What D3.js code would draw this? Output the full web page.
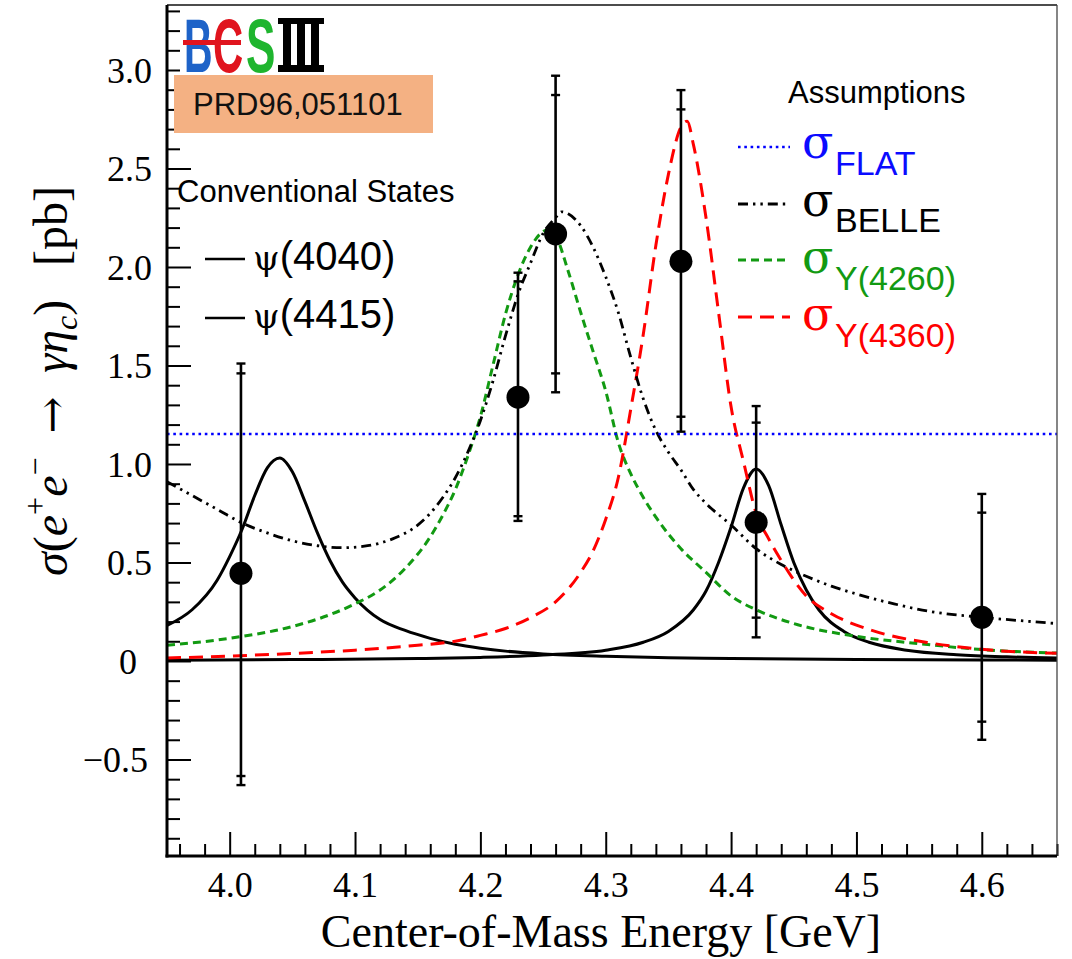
<!DOCTYPE html>
<html><head><meta charset="utf-8">
<script src="https://cdn.jsdelivr.net/npm/d3@7"></script>
<style>body{margin:0;background:#fff} svg{display:block}</style>
</head><body>
<svg id="c" width="1072" height="959"></svg>
<script>
// ---------------- data ----------------
const energies = [4.009, 4.230, 4.260, 4.360, 4.420, 4.600];
const sigmaVals = [0.445, 1.339, 2.168, 2.029, 0.704, 0.222];
const statHi = [1.46, 1.927, 2.873, 2.80, 1.21, 0.753];
const statLo = [-0.584, 0.735, 1.46, 1.24, 0.22, -0.308];
const totHi = [1.51, 1.971, 2.971, 2.898, 1.294, 0.848];
const totLo = [-0.63, 0.711, 1.364, 1.164, 0.12, -0.40];

const flatLevel = 1.152;

const psi4040E = [3.95,3.97,3.99,4.00,4.01,4.02,4.03,4.04,4.05,4.06,4.07,4.08,4.09,4.10,4.12,4.14,4.16,4.18,4.20,4.22,4.25,4.30,4.35,4.40,4.50,4.60,4.66];
const psi4040V = [0.18,0.26,0.41,0.53,0.67,0.84,0.98,1.03,0.96,0.81,0.65,0.51,0.40,0.32,0.21,0.155,0.115,0.085,0.065,0.05,0.036,0.024,0.017,0.013,0.008,0.005,0.004];

const psi4415E = [3.95,4.05,4.15,4.20,4.25,4.30,4.33,4.35,4.37,4.38,4.39,4.40,4.41,4.42,4.43,4.44,4.45,4.46,4.47,4.49,4.51,4.54,4.58,4.62,4.66];
const psi4415V = [0.004,0.007,0.012,0.018,0.03,0.055,0.095,0.15,0.26,0.355,0.50,0.68,0.88,0.975,0.89,0.69,0.50,0.36,0.26,0.15,0.095,0.055,0.032,0.021,0.015];

const belleE = [3.95,3.97,3.99,4.01,4.03,4.05,4.07,4.09,4.11,4.13,4.15,4.16,4.17,4.18,4.19,4.20,4.21,4.22,4.23,4.24,4.25,4.26,4.265,4.27,4.28,4.29,4.30,4.31,4.32,4.33,4.34,4.35,4.36,4.37,4.38,4.40,4.42,4.44,4.46,4.48,4.50,4.53,4.56,4.60,4.63,4.66];
const belleV = [0.91,0.84,0.77,0.70,0.65,0.61,0.585,0.575,0.585,0.62,0.69,0.75,0.83,0.93,1.06,1.22,1.42,1.65,1.86,2.02,2.17,2.25,2.28,2.27,2.21,2.10,1.95,1.77,1.54,1.33,1.17,1.06,0.97,0.87,0.80,0.69,0.57,0.49,0.43,0.38,0.34,0.29,0.25,0.222,0.205,0.19];

const y4260E = [3.95,4.00,4.05,4.08,4.10,4.12,4.14,4.16,4.17,4.18,4.19,4.20,4.21,4.22,4.23,4.24,4.25,4.255,4.26,4.27,4.28,4.29,4.30,4.31,4.32,4.33,4.34,4.36,4.38,4.40,4.42,4.45,4.50,4.55,4.60,4.66];
const y4260V = [0.08,0.115,0.175,0.235,0.29,0.36,0.47,0.63,0.74,0.87,1.04,1.24,1.50,1.76,1.96,2.10,2.18,2.19,2.16,1.98,1.77,1.57,1.37,1.11,0.95,0.83,0.73,0.57,0.45,0.33,0.26,0.19,0.125,0.088,0.058,0.04];

const y4360E = [3.95,4.00,4.05,4.10,4.15,4.18,4.20,4.22,4.24,4.26,4.28,4.29,4.30,4.31,4.32,4.33,4.34,4.35,4.36,4.365,4.37,4.38,4.39,4.40,4.41,4.42,4.43,4.44,4.46,4.48,4.51,4.56,4.60,4.66];
const y4360V = [0.015,0.025,0.038,0.055,0.08,0.10,0.13,0.165,0.22,0.30,0.45,0.56,0.72,0.93,1.28,1.66,2.11,2.47,2.71,2.74,2.62,2.25,1.77,1.29,1.01,0.75,0.62,0.51,0.33,0.24,0.16,0.09,0.059,0.039];

const xTicks = [4.0, 4.1, 4.2, 4.3, 4.4, 4.5, 4.6];
const xTickLabels = ["4.0", "4.1", "4.2", "4.3", "4.4", "4.5", "4.6"];
const yTicks = [-0.5, 0, 0.5, 1.0, 1.5, 2.0, 2.5, 3.0];
const yTickLabels = ["\u22120.5", "0", "0.5", "1.0", "1.5", "2.0", "2.5", "3.0"];

// ---------------- setup ----------------
const svg = d3.select("#c");
const x = d3.scaleLinear().domain([3.95, 4.66]).range([167, 1057]);
const y = d3.scaleLinear().domain([-0.99, 3.33]).range([856, 5]);
const SERIF = "'Liberation Serif','Times New Roman',serif";
const GREEK = "'DejaVu Serif',serif";
const SANS = "'Liberation Sans',Arial,Helvetica,sans-serif";

const styles = {
  flat:  {stroke: "#0000ff", w: 2.6, dash: "2.6,3.7"},
  belle: {stroke: "#000000", w: 2.8, dash: "10,5,2.4,5,2.4,5"},
  y4260: {stroke: "#129a12", w: 3, dash: "8,5"},
  y4360: {stroke: "#ff0000", w: 3, dash: "14,8"},
  psi:   {stroke: "#000000", w: 3, dash: null}
};

svg.append("defs").append("clipPath").attr("id", "clip")
  .append("rect").attr("x", x(3.95)).attr("y", y(3.33))
  .attr("width", x(4.66) - x(3.95)).attr("height", y(-0.99) - y(3.33));

const plot = svg.append("g").attr("clip-path", "url(#clip)");
const line = d3.line().x(d => x(d[0])).y(d => y(d[1])).curve(d3.curveMonotoneX);
const zip = (a, b) => a.map((v, i) => [v, b[i]]);

function styled(sel, s) {
  sel.attr("fill", "none").attr("stroke", s.stroke).attr("stroke-width", s.w);
  if (s.dash) sel.attr("stroke-dasharray", s.dash);
  return sel;
}

// curves
styled(plot.append("path").attr("d", line(zip(psi4415E, psi4415V))), styles.psi);
styled(plot.append("path").attr("d", line(zip(psi4040E, psi4040V))), styles.psi);
styled(plot.append("path").attr("d", line(zip(y4260E, y4260V))), styles.y4260);
styled(plot.append("path").attr("d", line(zip(y4360E, y4360V))), styles.y4360);
styled(plot.append("path").attr("d", line(zip(belleE, belleV))), styles.belle);
styled(plot.append("line").attr("x1", x(3.95)).attr("x2", x(4.66))
  .attr("y1", y(flatLevel)).attr("y2", y(flatLevel)), styles.flat);

// ---------------- axes ----------------
function styleAxis(g) {
  g.select(".domain").remove();
  g.selectAll(".tick line").attr("stroke", "#000").attr("stroke-width", 2);
}
const xMinor = d3.range(3.96, 4.665, 0.02).filter(v => xTicks.every(t => Math.abs(t - v) > 1e-6));
const yMinor = d3.range(-0.9, 3.335, 0.1).filter(v => yTicks.every(t => Math.abs(t - v) > 1e-6));

svg.append("g").attr("transform", `translate(0,${y(-0.99)})`)
  .call(d3.axisBottom(x).tickValues(xMinor).tickSize(-12).tickFormat(""))
  .call(styleAxis);
const xg = svg.append("g").attr("transform", `translate(0,${y(-0.99)})`)
  .call(d3.axisBottom(x).tickValues(xTicks).tickSize(-24).tickFormat((d, i) => xTickLabels[i]))
  .call(styleAxis);
xg.selectAll("text").attr("y", 41).attr("dy", null)
  .attr("font-family", SERIF).attr("font-size", 36).attr("fill", "#000");

svg.append("g").attr("transform", `translate(${x(3.95)},0)`)
  .call(d3.axisLeft(y).tickValues(yMinor).tickSize(-13).tickFormat(""))
  .call(styleAxis);
const yg = svg.append("g").attr("transform", `translate(${x(3.95)},0)`)
  .call(d3.axisLeft(y).tickValues(yTicks).tickSize(-24).tickFormat((d, i) => yTickLabels[i]))
  .call(styleAxis);
yg.selectAll("text")
  .attr("x", d => d === 0 ? -30 : (d < 0 ? -19 : -15))
  .attr("dy", "0.34em")
  .attr("font-family", SERIF).attr("font-size", 36).attr("fill", "#000");

// frame
const fx0 = x(3.95), fx1 = x(4.66), fy0 = y(3.33), fy1 = y(-0.99);
svg.append("line").attr("x1", fx0).attr("x2", fx1).attr("y1", fy0).attr("y2", fy0).attr("stroke", "#111").attr("stroke-width", 1.6);
svg.append("line").attr("x1", fx1).attr("x2", fx1).attr("y1", fy0).attr("y2", fy1).attr("stroke", "#444").attr("stroke-width", 1.3);
svg.append("line").attr("x1", fx0).attr("x2", fx0).attr("y1", fy0).attr("y2", fy1 + 1.5).attr("stroke", "#000").attr("stroke-width", 3);
svg.append("line").attr("x1", fx0 - 1.5).attr("x2", fx1).attr("y1", fy1).attr("y2", fy1).attr("stroke", "#000").attr("stroke-width", 3);

// ---------------- data points ----------------
const pts = energies.map((e, i) => ({e, v: sigmaVals[i], sh: statHi[i], sl: statLo[i], th: totHi[i], tl: totLo[i]}));
const pg = svg.append("g");
const cap = 4.5;
pg.selectAll("line.eb").data(pts).join("line").attr("class", "eb")
  .attr("x1", d => x(d.e)).attr("x2", d => x(d.e))
  .attr("y1", d => y(d.th)).attr("y2", d => y(d.tl))
  .attr("stroke", "#000").attr("stroke-width", 2.6);
["th", "sh", "sl", "tl"].forEach(k => {
  pg.selectAll("line.cap-" + k).data(pts).join("line").attr("class", "cap-" + k)
    .attr("x1", d => x(d.e) - cap).attr("x2", d => x(d.e) + cap)
    .attr("y1", d => y(d[k])).attr("y2", d => y(d[k]))
    .attr("stroke", "#000").attr("stroke-width", 2.4);
});
pg.selectAll("circle").data(pts).join("circle")
  .attr("cx", d => x(d.e)).attr("cy", d => y(d.v)).attr("r", 11.5).attr("fill", "#000");

// ---------------- axis titles ----------------
svg.append("text").attr("x", 601).attr("y", 947).attr("text-anchor", "middle")
  .attr("font-family", SERIF).attr("font-size", 46).attr("fill", "#000")
  .text("Center-of-Mass Energy [GeV]");

const yt = svg.append("text").attr("transform", "translate(67,381) rotate(-90)")
  .attr("text-anchor", "middle").attr("font-family", SERIF).attr("font-size", 48).attr("fill", "#000");
yt.append("tspan").attr("font-style", "italic").text("\u03c3");
yt.append("tspan").text("(");
yt.append("tspan").attr("font-style", "italic").text("e");
yt.append("tspan").attr("font-size", 32).attr("dy", -21).text("+");
yt.append("tspan").attr("font-style", "italic").attr("dy", 21).text("e");
yt.append("tspan").attr("font-size", 32).attr("dy", -21).text("\u2212");
yt.append("tspan").attr("dy", 21).text("\u2002");
yt.append("tspan").attr("font-family", GREEK).attr("font-size", 44).text("\u2192");
yt.append("tspan").text("\u2002");
yt.append("tspan").attr("font-style", "italic").text("\u03b3\u03b7");
yt.append("tspan").attr("font-style", "italic").attr("font-size", 32).attr("dy", 10).text("c");
yt.append("tspan").attr("dy", -10).text(")\u2002\u2009[pb]");

// ---------------- left legend ----------------
svg.append("text").attr("x", 177).attr("y", 202).attr("font-family", SANS).attr("font-size", 31)
  .attr("fill", "#000").text("Conventional States");
const psiLegend = [{name: "(4040)", ly: 259, by: 270}, {name: "(4415)", ly: 318, by: 328}];
psiLegend.forEach(p => {
  svg.append("line").attr("x1", 205).attr("x2", 245).attr("y1", p.ly).attr("y2", p.ly)
    .attr("stroke", "#000").attr("stroke-width", 2.6);
  const t = svg.append("text").attr("x", 253).attr("y", p.by).attr("fill", "#000").attr("font-size", 40);
  t.append("tspan").attr("font-family", GREEK).attr("font-size", 34).text("\u03c8");
  t.append("tspan").attr("font-family", SANS).text(p.name);
});

// ---------------- right legend ----------------
svg.append("text").attr("x", 788).attr("y", 103).attr("font-family", SANS).attr("font-size", 31)
  .attr("fill", "#000").text("Assumptions");
const rightLegend = [
  {s: styles.flat, sub: "FLAT", color: "#0b0bff", ly: 147, sy: 158, by: 175},
  {s: styles.belle, sub: "BELLE", color: "#000000", ly: 204, sy: 216, by: 232},
  {s: styles.y4260, sub: "Y(4260)", color: "#129a12", ly: 260, sy: 273, by: 290},
  {s: styles.y4360, sub: "Y(4360)", color: "#ff0000", ly: 317, sy: 330, by: 347}
];
rightLegend.forEach(r => {
  styled(svg.append("line").attr("x1", 738).attr("x2", 790).attr("y1", r.ly).attr("y2", r.ly), r.s);
  svg.append("text").attr("x", 802).attr("y", r.sy).attr("font-family", GREEK).attr("font-size", 46)
    .attr("fill", r.color).text("\u03c3");
  svg.append("text").attr("x", 835).attr("y", r.by).attr("font-family", SANS).attr("font-size", 34)
    .attr("fill", r.color).text(r.sub);
});

// ---------------- logo & reference box ----------------
svg.append("rect").attr("x", 180).attr("y", 7).attr("width", 150).attr("height", 66).attr("fill", "#fff");
const logo = svg.append("g");
logo.append("text").attr("transform", "translate(184,72) scale(0.52,1)").attr("font-family", SANS)
  .attr("font-weight", "bold").attr("font-size", 76).attr("fill", "#1e63c8").text("B");
logo.append("text").attr("transform", "translate(213,72) scale(0.55,1)").attr("font-family", SANS)
  .attr("font-weight", "bold").attr("font-size", 76).attr("fill", "#e0141e").text("C");
logo.append("rect").attr("x", 183).attr("y", 40).attr("width", 58).attr("height", 5).attr("fill", "#e0141e");
logo.append("text").attr("transform", "translate(246,72) scale(0.58,1)").attr("font-family", SANS)
  .attr("font-weight", "bold").attr("font-size", 76).attr("fill", "#1fb52e").text("S");
logo.append("rect").attr("x", 278).attr("y", 18).attr("width", 46).attr("height", 6).attr("fill", "#000");
logo.append("rect").attr("x", 278).attr("y", 65).attr("width", 46).attr("height", 7).attr("fill", "#000");
[283, 297, 311].forEach(bx => logo.append("rect").attr("x", bx).attr("y", 20).attr("width", 8).attr("height", 48).attr("fill", "#000"));

svg.append("rect").attr("x", 174).attr("y", 75).attr("width", 259).attr("height", 58).attr("fill", "#f4b183");
svg.append("text").attr("x", 193).attr("y", 115).attr("font-family", SANS).attr("font-size", 31)
  .attr("fill", "#111").text("PRD96,051101");
</script>
</body></html>
